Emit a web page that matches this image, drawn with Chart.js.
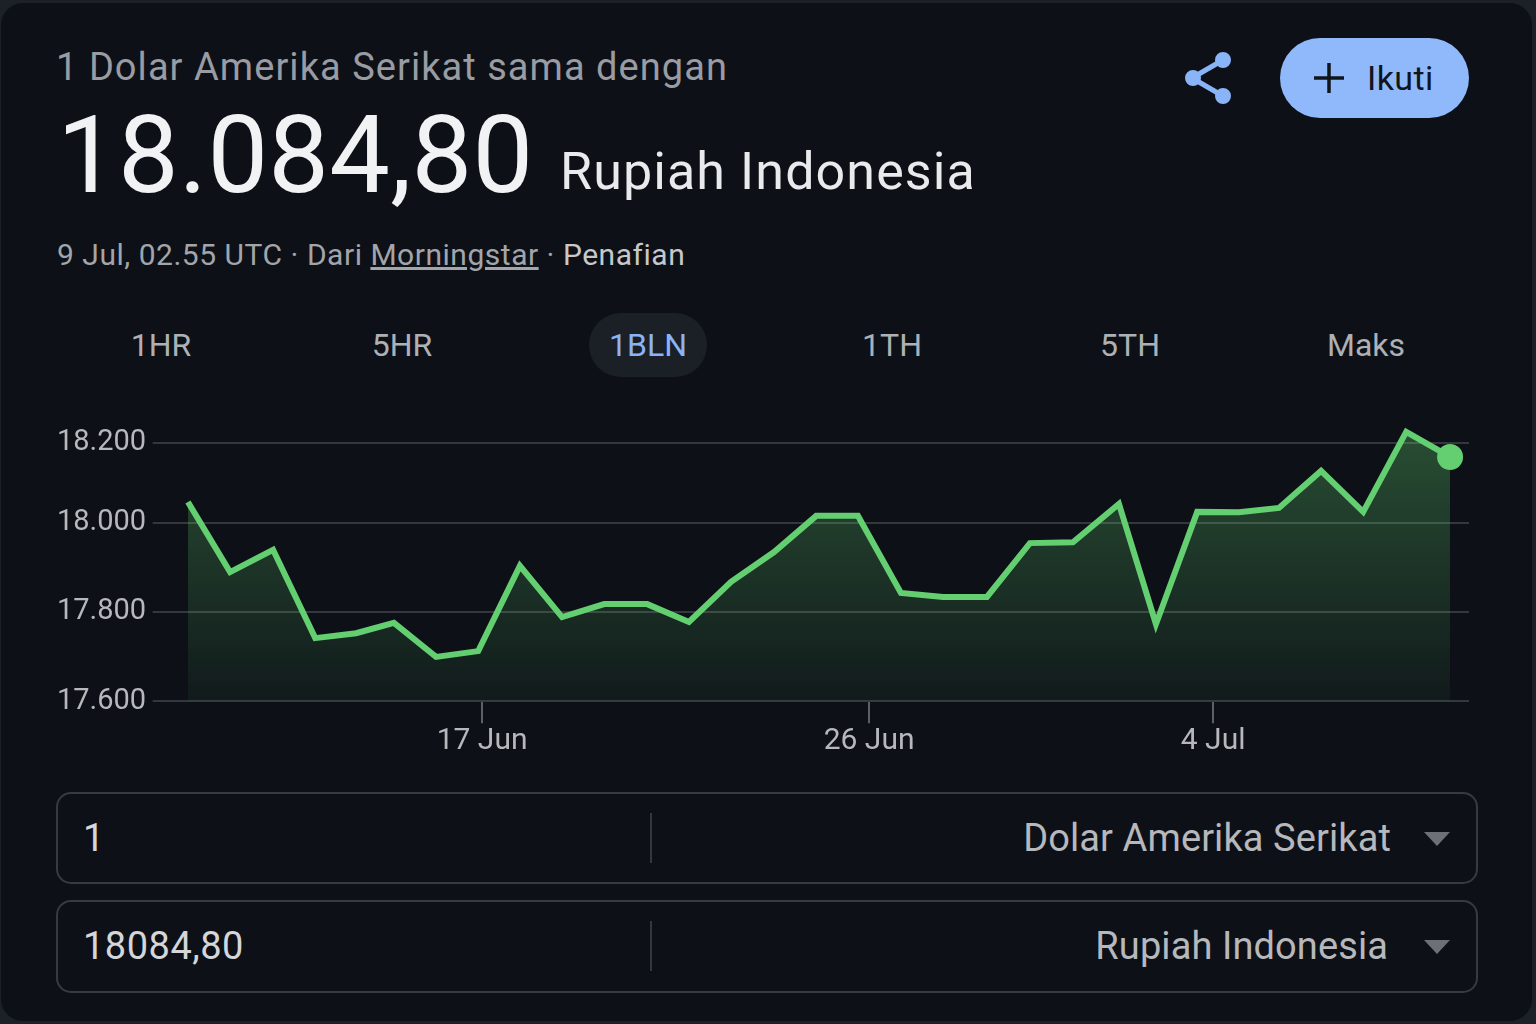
<!DOCTYPE html>
<html lang="id">
<head>
<meta charset="utf-8">
<title>USD ke IDR</title>
<script src="https://cdn.jsdelivr.net/npm/chart.js@4"></script>
<style>
  html, body { margin: 0; padding: 0; background: #1b2127; }
  body { width: 1536px; height: 1024px; overflow: hidden; position: relative; font-family: Roboto, sans-serif; }
  #card { position: absolute; left: 1px; top: 3px; width: 1531px; height: 1018px; background: #0d1117; border-radius: 22px; }
  .t { position: absolute; white-space: nowrap; line-height: 1; }
  .r { text-align: right; }
  #chartBox { position: absolute; left: 0; top: 400px; width: 1536px; height: 380px; }
  #pill { position: absolute; left: 589px; top: 313px; width: 118px; height: 64px; border-radius: 32px; background: #1b2027; }
  #follow { position: absolute; left: 1280px; top: 38px; width: 189px; height: 80px; border-radius: 40px; background: #90b9fb; }
  .box { position: absolute; left: 56px; width: 1418px; border: 2px solid #363b42; border-radius: 15px; }
  .sep { position: absolute; left: 650px; width: 2px; height: 50px; background: #33383e; }
  .tab { font-size: 32px; color: #adb0b5; width: 200px; text-align: center; }
  svg { position: absolute; left: 0; top: 0; }
</style>
</head>
<body>
<div id="card"></div>

<div class="t" style="left:56px;top:48px;font-size:38px;letter-spacing:1.05px;color:#999ca3">1 Dolar Amerika Serikat sama dengan</div>
<div class="t" style="left:57px;top:101px;font-size:108px;letter-spacing:0.2px;color:#f1f2f3">18.084,80</div>
<div class="t" style="left:560px;top:146px;font-size:52px;letter-spacing:1.1px;color:#e9eaec">Rupiah Indonesia</div>
<div class="t" style="left:57px;top:240px;font-size:30px;letter-spacing:0.52px;color:#a2a5aa">9 Jul, 02.55 UTC · Dari <span style="text-decoration:underline">Morningstar</span> · <span style="color:#c6c8cb">Penafian</span></div>

<div id="pill"></div>
<div class="t tab" style="left:61px;top:329px">1HR</div>
<div class="t tab" style="left:302px;top:329px">5HR</div>
<div class="t tab" style="left:548px;top:329px;color:#8ab4f8">1BLN</div>
<div class="t tab" style="left:792px;top:329px">1TH</div>
<div class="t tab" style="left:1030px;top:329px">5TH</div>
<div class="t tab" style="left:1266px;top:329px">Maks</div>

<div id="follow"></div>
<div class="t" style="left:1367px;top:61px;font-size:34px;letter-spacing:0.4px;color:#10151b">Ikuti</div>

<svg width="1536" height="1024">
  <g stroke="#8ab4f8" stroke-width="5" fill="#8ab4f8">
    <line x1="1223" y1="60" x2="1192" y2="78"/>
    <line x1="1223" y1="96" x2="1192" y2="78"/>
    <circle cx="1223" cy="60" r="5.5"/>
    <circle cx="1223" cy="96" r="5.5"/>
    <circle cx="1193" cy="78" r="5.5"/>
  </g>
  <g stroke="#10151b" stroke-width="3.5">
    <line x1="1314" y1="78" x2="1344" y2="78"/>
    <line x1="1329" y1="63" x2="1329" y2="93"/>
  </g>
  <path d="M1424 832 L1450 832 L1437 846 Z" fill="#6d7074"/>
  <path d="M1424 940 L1450 940 L1437 954 Z" fill="#6d7074"/>
</svg>

<div id="chartBox"><canvas id="myChart" width="1536" height="380"></canvas></div>

<div class="box" style="top:792px;height:88px"></div>
<div class="sep" style="top:813px"></div>
<div class="t" style="left:83px;top:819px;font-size:38px;color:#d4d6d9">1</div>
<div class="t r" style="right:145px;top:819px;font-size:38px;letter-spacing:0.1px;color:#b6b8bc">Dolar Amerika Serikat</div>

<div class="box" style="top:900px;height:89px"></div>
<div class="sep" style="top:921px"></div>
<div class="t" style="left:83px;top:927px;font-size:38px;letter-spacing:0.5px;color:#d4d6d9">18084,80</div>
<div class="t r" style="right:148px;top:927px;font-size:38px;letter-spacing:0.1px;color:#b6b8bc">Rupiah Indonesia</div>

<script>
// days counted from 1 Jun (so 4 Jul = 34)
const days = [10.16, 11.14, 12.14, 13.12, 14.07, 14.95, 15.93, 16.91, 17.88, 18.86, 19.84,
  20.84, 21.81, 22.79, 23.79, 24.77, 25.74, 26.74, 27.72, 28.74, 29.74,
  30.74, 31.81, 32.67, 33.63, 34.60, 35.53, 36.51, 37.49, 38.49, 39.51];
const rates = [18052, 17889, 17939, 17741, 17752, 17775, 17699, 17712, 17903, 17788, 17817,
  17817, 17777, 17867, 17934, 18017, 18017, 17842, 17833, 17833, 17954,
  17956, 18047, 17772, 18027, 18026, 18037, 18130, 18027, 18228, 18165];
const yTicks = [17600, 17800, 18000, 18200];
const yTickLabels = ['17.600', '17.800', '18.000', '18.200'];
const xTicks = [17, 26, 34];
const xTickLabels = ['17 Jun', '26 Jun', '4 Jul'];

// the source chart's gridlines are not evenly spaced (79px on top, 89px below)
const stopValues = [17600, 17800, 18000, 18200, 18250];
const stopFractions = [0, 0.322, 0.642, 0.928, 1];

class UnevenScale extends Chart.LinearScale {
  getPixelForValue(value) {
    let i = 0;
    while (i < stopValues.length - 2 && value > stopValues[i + 1]) i++;
    const t = (value - stopValues[i]) / (stopValues[i + 1] - stopValues[i]);
    return this.getPixelForDecimal(stopFractions[i] + t * (stopFractions[i + 1] - stopFractions[i]));
  }
}
UnevenScale.id = 'uneven';
UnevenScale.defaults = Chart.LinearScale.defaults;
Chart.register(UnevenScale);

document.addEventListener('DOMContentLoaded', function() {
  const ctx = document.getElementById('myChart');
  const green = '#64cf70';

  new Chart(ctx, {
    type: 'line',
    data: {
      datasets: [{
        label: 'USD/IDR',
        data: days.map((d, i) => ({ x: d, y: rates[i] })),
        borderColor: green,
        borderWidth: 6,
        borderJoinStyle: 'miter',
        tension: 0,
        fill: 'start',
        backgroundColor: function(c) {
          const area = c.chart.chartArea;
          if (!area) return 'transparent';
          const g = c.chart.ctx.createLinearGradient(0, area.top, 0, area.bottom);
          g.addColorStop(0, 'rgba(100, 207, 112, 0.33)');
          g.addColorStop(1, 'rgba(100, 207, 112, 0.05)');
          return g;
        },
        pointRadius: c => c.dataIndex === rates.length - 1 ? 13 : 0,
        pointBackgroundColor: green,
        pointBorderWidth: 0,
        clip: false
      }]
    },
    options: {
      responsive: false,
      animation: false,
      layout: { padding: { left: 57, top: 23, right: 67, bottom: 0 } },
      plugins: { legend: { display: false }, tooltip: { enabled: false } },
      scales: {
        x: {
          type: 'linear',
          min: 9.34,
          max: 39.95,
          afterBuildTicks: a => { a.ticks = xTicks.map(v => ({ value: v })); },
          afterFit: a => { a.height = 78.7; },
          border: { display: false },
          grid: { drawOnChartArea: false, color: '#5c5f64', lineWidth: 2, tickLength: 22 },
          ticks: {
            autoSkip: false,
            maxRotation: 0,
            padding: 0,
            color: '#b6b8bc',
            font: { family: 'Roboto', size: 30 },
            callback: v => xTickLabels[xTicks.indexOf(v)]
          }
        },
        y: {
          type: 'uneven',
          min: 17600,
          max: 18250,
          afterBuildTicks: a => { a.ticks = yTicks.map(v => ({ value: v })); },
          afterFit: a => { a.width = 95.67; },
          border: { display: false },
          grid: { color: '#34383d', lineWidth: 2, tickLength: 0 },
          ticks: {
            crossAlign: 'far',
            padding: 0,
            color: '#b6b8bc',
            font: { family: 'Roboto', size: 29 },
            callback: v => yTickLabels[yTicks.indexOf(v)]
          }
        }
      }
    }
  });
});
</script>
</body>
</html>
